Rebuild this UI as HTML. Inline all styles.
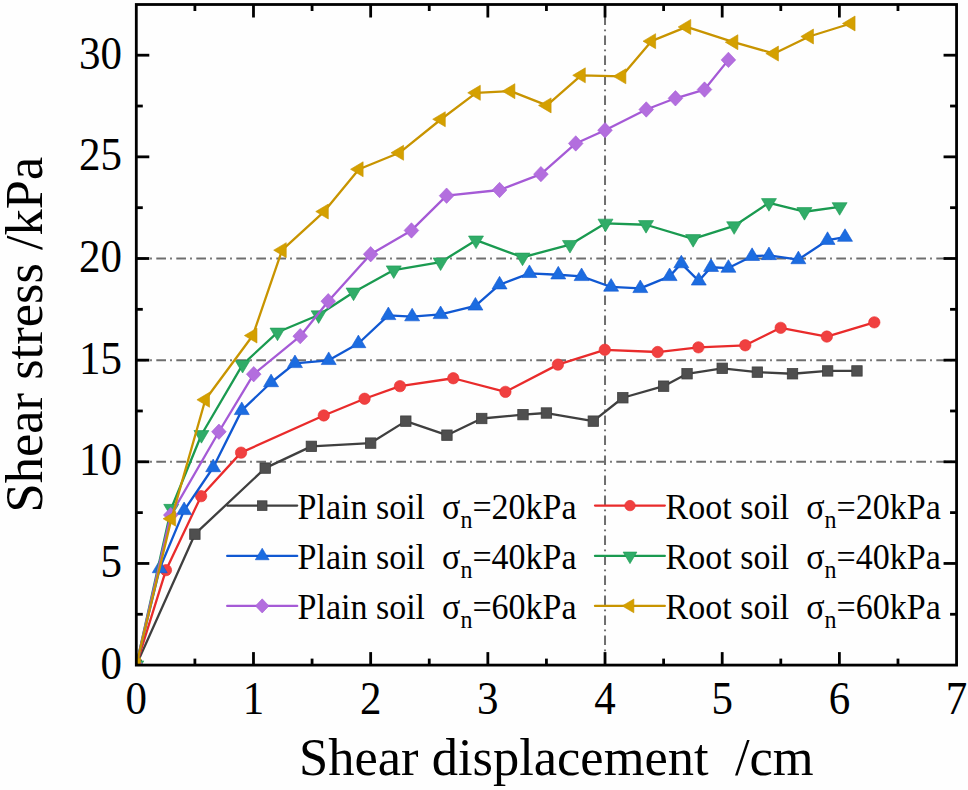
<!DOCTYPE html><html><head><meta charset="utf-8"><style>html,body{margin:0;padding:0;background:#fff;width:968px;height:790px;overflow:hidden}svg{display:block}text{font-family:"Liberation Serif",serif;fill:#000}</style></head><body>
<svg width="968" height="790" viewBox="0 0 968 790">
<rect width="968" height="790" fill="#fefefe"/>
<defs><clipPath id="pc"><rect x="136" y="4.5" width="820.5" height="660.5"/></clipPath></defs>
<line x1="136.3" y1="461.80" x2="956.5" y2="461.80" stroke="#6e6e6e" stroke-width="2" stroke-dasharray="9.7 4.1 1.8 4.4"/>
<line x1="136.3" y1="360.15" x2="956.5" y2="360.15" stroke="#6e6e6e" stroke-width="2" stroke-dasharray="9.7 4.1 1.8 4.4"/>
<line x1="136.3" y1="258.50" x2="956.5" y2="258.50" stroke="#6e6e6e" stroke-width="2" stroke-dasharray="9.7 4.1 1.8 4.4"/>
<line x1="605.02" y1="665.1" x2="605.02" y2="4.5" stroke="#6e6e6e" stroke-width="2" stroke-dasharray="9.7 4.1 1.8 4.4"/>
<g clip-path="url(#pc)">
<polyline points="136.30,665.10 194.89,534.17 265.20,468.10 311.37,446.35 370.66,443.10 405.81,421.14 446.94,435.17 481.75,418.50 522.99,414.63 546.43,413.01 593.30,421.14 622.83,397.76 663.61,386.17 687.05,373.77 722.20,368.28 757.35,372.14 792.51,373.77 827.66,370.92 856.96,370.92" fill="none" stroke="#3f3f3f" stroke-width="2.3" stroke-linejoin="round" stroke-linecap="round"/>
<rect x="131.10" y="659.90" width="10.40" height="10.40" fill="#4f4f4f" stroke="#3f3f3f" stroke-width="0.8"/>
<rect x="189.69" y="528.97" width="10.40" height="10.40" fill="#4f4f4f" stroke="#3f3f3f" stroke-width="0.8"/>
<rect x="260.00" y="462.90" width="10.40" height="10.40" fill="#4f4f4f" stroke="#3f3f3f" stroke-width="0.8"/>
<rect x="306.17" y="441.15" width="10.40" height="10.40" fill="#4f4f4f" stroke="#3f3f3f" stroke-width="0.8"/>
<rect x="365.46" y="437.90" width="10.40" height="10.40" fill="#4f4f4f" stroke="#3f3f3f" stroke-width="0.8"/>
<rect x="400.61" y="415.94" width="10.40" height="10.40" fill="#4f4f4f" stroke="#3f3f3f" stroke-width="0.8"/>
<rect x="441.74" y="429.97" width="10.40" height="10.40" fill="#4f4f4f" stroke="#3f3f3f" stroke-width="0.8"/>
<rect x="476.55" y="413.30" width="10.40" height="10.40" fill="#4f4f4f" stroke="#3f3f3f" stroke-width="0.8"/>
<rect x="517.79" y="409.43" width="10.40" height="10.40" fill="#4f4f4f" stroke="#3f3f3f" stroke-width="0.8"/>
<rect x="541.23" y="407.81" width="10.40" height="10.40" fill="#4f4f4f" stroke="#3f3f3f" stroke-width="0.8"/>
<rect x="588.10" y="415.94" width="10.40" height="10.40" fill="#4f4f4f" stroke="#3f3f3f" stroke-width="0.8"/>
<rect x="617.63" y="392.56" width="10.40" height="10.40" fill="#4f4f4f" stroke="#3f3f3f" stroke-width="0.8"/>
<rect x="658.41" y="380.97" width="10.40" height="10.40" fill="#4f4f4f" stroke="#3f3f3f" stroke-width="0.8"/>
<rect x="681.85" y="368.57" width="10.40" height="10.40" fill="#4f4f4f" stroke="#3f3f3f" stroke-width="0.8"/>
<rect x="717.00" y="363.08" width="10.40" height="10.40" fill="#4f4f4f" stroke="#3f3f3f" stroke-width="0.8"/>
<rect x="752.15" y="366.94" width="10.40" height="10.40" fill="#4f4f4f" stroke="#3f3f3f" stroke-width="0.8"/>
<rect x="787.31" y="368.57" width="10.40" height="10.40" fill="#4f4f4f" stroke="#3f3f3f" stroke-width="0.8"/>
<rect x="822.46" y="365.72" width="10.40" height="10.40" fill="#4f4f4f" stroke="#3f3f3f" stroke-width="0.8"/>
<rect x="851.76" y="365.72" width="10.40" height="10.40" fill="#4f4f4f" stroke="#3f3f3f" stroke-width="0.8"/>
<polyline points="136.30,665.10 165.95,570.16 201.10,496.16 241.06,452.65 323.79,415.45 364.57,398.78 399.96,386.17 453.27,378.24 505.42,391.86 557.91,364.62 604.79,349.78 657.63,352.02 698.41,347.34 745.28,345.31 780.67,327.83 826.84,336.57 874.30,322.34" fill="none" stroke="#e92b2b" stroke-width="2.3" stroke-linejoin="round" stroke-linecap="round"/>
<circle cx="136.30" cy="665.10" r="5.70" fill="#f04040" stroke="#e92b2b" stroke-width="0.6"/>
<circle cx="165.95" cy="570.16" r="5.70" fill="#f04040" stroke="#e92b2b" stroke-width="0.6"/>
<circle cx="201.10" cy="496.16" r="5.70" fill="#f04040" stroke="#e92b2b" stroke-width="0.6"/>
<circle cx="241.06" cy="452.65" r="5.70" fill="#f04040" stroke="#e92b2b" stroke-width="0.6"/>
<circle cx="323.79" cy="415.45" r="5.70" fill="#f04040" stroke="#e92b2b" stroke-width="0.6"/>
<circle cx="364.57" cy="398.78" r="5.70" fill="#f04040" stroke="#e92b2b" stroke-width="0.6"/>
<circle cx="399.96" cy="386.17" r="5.70" fill="#f04040" stroke="#e92b2b" stroke-width="0.6"/>
<circle cx="453.27" cy="378.24" r="5.70" fill="#f04040" stroke="#e92b2b" stroke-width="0.6"/>
<circle cx="505.42" cy="391.86" r="5.70" fill="#f04040" stroke="#e92b2b" stroke-width="0.6"/>
<circle cx="557.91" cy="364.62" r="5.70" fill="#f04040" stroke="#e92b2b" stroke-width="0.6"/>
<circle cx="604.79" cy="349.78" r="5.70" fill="#f04040" stroke="#e92b2b" stroke-width="0.6"/>
<circle cx="657.63" cy="352.02" r="5.70" fill="#f04040" stroke="#e92b2b" stroke-width="0.6"/>
<circle cx="698.41" cy="347.34" r="5.70" fill="#f04040" stroke="#e92b2b" stroke-width="0.6"/>
<circle cx="745.28" cy="345.31" r="5.70" fill="#f04040" stroke="#e92b2b" stroke-width="0.6"/>
<circle cx="780.67" cy="327.83" r="5.70" fill="#f04040" stroke="#e92b2b" stroke-width="0.6"/>
<circle cx="826.84" cy="336.57" r="5.70" fill="#f04040" stroke="#e92b2b" stroke-width="0.6"/>
<circle cx="874.30" cy="322.34" r="5.70" fill="#f04040" stroke="#e92b2b" stroke-width="0.6"/>
<polyline points="136.30,665.10 159.74,568.53 184.11,510.39 213.17,467.49 241.76,410.37 271.06,382.51 294.96,363.40 328.71,360.35 358.36,343.48 388.35,315.42 412.14,316.64 440.62,314.41 475.42,305.87 499.56,284.73 529.44,273.34 558.27,274.76 581.58,276.39 611.11,286.96 640.29,288.39 669.59,276.39 681.30,263.58 698.76,280.86 711.07,267.24 728.41,268.06 752.08,256.26 768.95,255.45 798.37,259.52 827.54,240.20 845.00,237.15" fill="none" stroke="#1058d2" stroke-width="2.3" stroke-linejoin="round" stroke-linecap="round"/>
<polygon points="136.30,656.70 143.80,669.30 128.80,669.30" fill="#1c6ce0" stroke="#1058d2" stroke-width="0.6" stroke-linejoin="miter"/>
<polygon points="159.74,560.13 167.24,572.73 152.24,572.73" fill="#1c6ce0" stroke="#1058d2" stroke-width="0.6" stroke-linejoin="miter"/>
<polygon points="184.11,501.99 191.61,514.59 176.61,514.59" fill="#1c6ce0" stroke="#1058d2" stroke-width="0.6" stroke-linejoin="miter"/>
<polygon points="213.17,459.09 220.67,471.69 205.67,471.69" fill="#1c6ce0" stroke="#1058d2" stroke-width="0.6" stroke-linejoin="miter"/>
<polygon points="241.76,401.97 249.26,414.57 234.26,414.57" fill="#1c6ce0" stroke="#1058d2" stroke-width="0.6" stroke-linejoin="miter"/>
<polygon points="271.06,374.11 278.56,386.71 263.56,386.71" fill="#1c6ce0" stroke="#1058d2" stroke-width="0.6" stroke-linejoin="miter"/>
<polygon points="294.96,355.00 302.46,367.60 287.46,367.60" fill="#1c6ce0" stroke="#1058d2" stroke-width="0.6" stroke-linejoin="miter"/>
<polygon points="328.71,351.95 336.21,364.55 321.21,364.55" fill="#1c6ce0" stroke="#1058d2" stroke-width="0.6" stroke-linejoin="miter"/>
<polygon points="358.36,335.08 365.86,347.68 350.86,347.68" fill="#1c6ce0" stroke="#1058d2" stroke-width="0.6" stroke-linejoin="miter"/>
<polygon points="388.35,307.02 395.85,319.62 380.85,319.62" fill="#1c6ce0" stroke="#1058d2" stroke-width="0.6" stroke-linejoin="miter"/>
<polygon points="412.14,308.24 419.64,320.84 404.64,320.84" fill="#1c6ce0" stroke="#1058d2" stroke-width="0.6" stroke-linejoin="miter"/>
<polygon points="440.62,306.01 448.12,318.61 433.12,318.61" fill="#1c6ce0" stroke="#1058d2" stroke-width="0.6" stroke-linejoin="miter"/>
<polygon points="475.42,297.47 482.92,310.07 467.92,310.07" fill="#1c6ce0" stroke="#1058d2" stroke-width="0.6" stroke-linejoin="miter"/>
<polygon points="499.56,276.33 507.06,288.93 492.06,288.93" fill="#1c6ce0" stroke="#1058d2" stroke-width="0.6" stroke-linejoin="miter"/>
<polygon points="529.44,264.94 536.94,277.54 521.94,277.54" fill="#1c6ce0" stroke="#1058d2" stroke-width="0.6" stroke-linejoin="miter"/>
<polygon points="558.27,266.36 565.77,278.96 550.77,278.96" fill="#1c6ce0" stroke="#1058d2" stroke-width="0.6" stroke-linejoin="miter"/>
<polygon points="581.58,267.99 589.08,280.59 574.08,280.59" fill="#1c6ce0" stroke="#1058d2" stroke-width="0.6" stroke-linejoin="miter"/>
<polygon points="611.11,278.56 618.61,291.16 603.61,291.16" fill="#1c6ce0" stroke="#1058d2" stroke-width="0.6" stroke-linejoin="miter"/>
<polygon points="640.29,279.99 647.79,292.59 632.79,292.59" fill="#1c6ce0" stroke="#1058d2" stroke-width="0.6" stroke-linejoin="miter"/>
<polygon points="669.59,267.99 677.09,280.59 662.09,280.59" fill="#1c6ce0" stroke="#1058d2" stroke-width="0.6" stroke-linejoin="miter"/>
<polygon points="681.30,255.18 688.80,267.78 673.80,267.78" fill="#1c6ce0" stroke="#1058d2" stroke-width="0.6" stroke-linejoin="miter"/>
<polygon points="698.76,272.46 706.26,285.06 691.26,285.06" fill="#1c6ce0" stroke="#1058d2" stroke-width="0.6" stroke-linejoin="miter"/>
<polygon points="711.07,258.84 718.57,271.44 703.57,271.44" fill="#1c6ce0" stroke="#1058d2" stroke-width="0.6" stroke-linejoin="miter"/>
<polygon points="728.41,259.66 735.91,272.26 720.91,272.26" fill="#1c6ce0" stroke="#1058d2" stroke-width="0.6" stroke-linejoin="miter"/>
<polygon points="752.08,247.86 759.58,260.46 744.58,260.46" fill="#1c6ce0" stroke="#1058d2" stroke-width="0.6" stroke-linejoin="miter"/>
<polygon points="768.95,247.05 776.45,259.65 761.45,259.65" fill="#1c6ce0" stroke="#1058d2" stroke-width="0.6" stroke-linejoin="miter"/>
<polygon points="798.37,251.12 805.87,263.72 790.87,263.72" fill="#1c6ce0" stroke="#1058d2" stroke-width="0.6" stroke-linejoin="miter"/>
<polygon points="827.54,231.80 835.04,244.40 820.04,244.40" fill="#1c6ce0" stroke="#1058d2" stroke-width="0.6" stroke-linejoin="miter"/>
<polygon points="845.00,228.75 852.50,241.35 837.50,241.35" fill="#1c6ce0" stroke="#1058d2" stroke-width="0.6" stroke-linejoin="miter"/>
<polyline points="136.30,665.10 171.22,508.56 201.45,434.76 242.58,364.62 277.50,332.30 318.63,315.02 353.55,292.25 393.74,270.09 440.62,262.16 476.00,240.20 522.53,257.28 569.98,244.68 605.49,223.33 646.03,224.75 693.14,238.78 734.15,225.97 768.95,202.80 804.46,211.74 839.61,206.86" fill="none" stroke="#1a9a50" stroke-width="2.3" stroke-linejoin="round" stroke-linecap="round"/>
<polygon points="136.30,673.50 143.80,660.90 128.80,660.90" fill="#30ac68" stroke="#1a9a50" stroke-width="0.6" stroke-linejoin="miter"/>
<polygon points="171.22,516.96 178.72,504.36 163.72,504.36" fill="#30ac68" stroke="#1a9a50" stroke-width="0.6" stroke-linejoin="miter"/>
<polygon points="201.45,443.16 208.95,430.56 193.95,430.56" fill="#30ac68" stroke="#1a9a50" stroke-width="0.6" stroke-linejoin="miter"/>
<polygon points="242.58,373.02 250.08,360.42 235.08,360.42" fill="#30ac68" stroke="#1a9a50" stroke-width="0.6" stroke-linejoin="miter"/>
<polygon points="277.50,340.70 285.00,328.10 270.00,328.10" fill="#30ac68" stroke="#1a9a50" stroke-width="0.6" stroke-linejoin="miter"/>
<polygon points="318.63,323.42 326.13,310.82 311.13,310.82" fill="#30ac68" stroke="#1a9a50" stroke-width="0.6" stroke-linejoin="miter"/>
<polygon points="353.55,300.65 361.05,288.05 346.05,288.05" fill="#30ac68" stroke="#1a9a50" stroke-width="0.6" stroke-linejoin="miter"/>
<polygon points="393.74,278.49 401.24,265.89 386.24,265.89" fill="#30ac68" stroke="#1a9a50" stroke-width="0.6" stroke-linejoin="miter"/>
<polygon points="440.62,270.56 448.12,257.96 433.12,257.96" fill="#30ac68" stroke="#1a9a50" stroke-width="0.6" stroke-linejoin="miter"/>
<polygon points="476.00,248.60 483.50,236.00 468.50,236.00" fill="#30ac68" stroke="#1a9a50" stroke-width="0.6" stroke-linejoin="miter"/>
<polygon points="522.53,265.68 530.03,253.08 515.03,253.08" fill="#30ac68" stroke="#1a9a50" stroke-width="0.6" stroke-linejoin="miter"/>
<polygon points="569.98,253.08 577.48,240.48 562.48,240.48" fill="#30ac68" stroke="#1a9a50" stroke-width="0.6" stroke-linejoin="miter"/>
<polygon points="605.49,231.73 612.99,219.13 597.99,219.13" fill="#30ac68" stroke="#1a9a50" stroke-width="0.6" stroke-linejoin="miter"/>
<polygon points="646.03,233.15 653.53,220.55 638.53,220.55" fill="#30ac68" stroke="#1a9a50" stroke-width="0.6" stroke-linejoin="miter"/>
<polygon points="693.14,247.18 700.64,234.58 685.64,234.58" fill="#30ac68" stroke="#1a9a50" stroke-width="0.6" stroke-linejoin="miter"/>
<polygon points="734.15,234.37 741.65,221.77 726.65,221.77" fill="#30ac68" stroke="#1a9a50" stroke-width="0.6" stroke-linejoin="miter"/>
<polygon points="768.95,211.20 776.45,198.60 761.45,198.60" fill="#30ac68" stroke="#1a9a50" stroke-width="0.6" stroke-linejoin="miter"/>
<polygon points="804.46,220.14 811.96,207.54 796.96,207.54" fill="#30ac68" stroke="#1a9a50" stroke-width="0.6" stroke-linejoin="miter"/>
<polygon points="839.61,215.26 847.11,202.66 832.11,202.66" fill="#30ac68" stroke="#1a9a50" stroke-width="0.6" stroke-linejoin="miter"/>
<polyline points="136.30,665.10 170.75,515.06 218.91,431.71 253.71,374.18 300.23,336.16 328.24,301.19 370.66,254.23 411.44,230.44 446.59,195.68 499.56,189.99 540.92,174.13 575.73,143.43 605.02,130.22 646.27,109.48 675.45,98.30 704.51,89.56 728.41,59.88" fill="none" stroke="#a55ad6" stroke-width="2.3" stroke-linejoin="round" stroke-linecap="round"/>
<polygon points="136.30,657.40 143.62,665.10 136.30,672.80 128.99,665.10" fill="#b36ede" stroke="#a55ad6" stroke-width="0.6" stroke-linejoin="miter"/>
<polygon points="170.75,507.36 178.07,515.06 170.75,522.76 163.44,515.06" fill="#b36ede" stroke="#a55ad6" stroke-width="0.6" stroke-linejoin="miter"/>
<polygon points="218.91,424.01 226.23,431.71 218.91,439.41 211.60,431.71" fill="#b36ede" stroke="#a55ad6" stroke-width="0.6" stroke-linejoin="miter"/>
<polygon points="253.71,366.48 261.03,374.18 253.71,381.88 246.40,374.18" fill="#b36ede" stroke="#a55ad6" stroke-width="0.6" stroke-linejoin="miter"/>
<polygon points="300.23,328.46 307.55,336.16 300.23,343.86 292.92,336.16" fill="#b36ede" stroke="#a55ad6" stroke-width="0.6" stroke-linejoin="miter"/>
<polygon points="328.24,293.49 335.56,301.19 328.24,308.89 320.93,301.19" fill="#b36ede" stroke="#a55ad6" stroke-width="0.6" stroke-linejoin="miter"/>
<polygon points="370.66,246.53 377.98,254.23 370.66,261.93 363.35,254.23" fill="#b36ede" stroke="#a55ad6" stroke-width="0.6" stroke-linejoin="miter"/>
<polygon points="411.44,222.74 418.75,230.44 411.44,238.14 404.12,230.44" fill="#b36ede" stroke="#a55ad6" stroke-width="0.6" stroke-linejoin="miter"/>
<polygon points="446.59,187.98 453.91,195.68 446.59,203.38 439.28,195.68" fill="#b36ede" stroke="#a55ad6" stroke-width="0.6" stroke-linejoin="miter"/>
<polygon points="499.56,182.29 506.87,189.99 499.56,197.69 492.24,189.99" fill="#b36ede" stroke="#a55ad6" stroke-width="0.6" stroke-linejoin="miter"/>
<polygon points="540.92,166.43 548.24,174.13 540.92,181.83 533.61,174.13" fill="#b36ede" stroke="#a55ad6" stroke-width="0.6" stroke-linejoin="miter"/>
<polygon points="575.73,135.73 583.04,143.43 575.73,151.13 568.41,143.43" fill="#b36ede" stroke="#a55ad6" stroke-width="0.6" stroke-linejoin="miter"/>
<polygon points="605.02,122.52 612.34,130.22 605.02,137.92 597.70,130.22" fill="#b36ede" stroke="#a55ad6" stroke-width="0.6" stroke-linejoin="miter"/>
<polygon points="646.27,101.78 653.58,109.48 646.27,117.18 638.95,109.48" fill="#b36ede" stroke="#a55ad6" stroke-width="0.6" stroke-linejoin="miter"/>
<polygon points="675.45,90.60 682.76,98.30 675.45,106.00 668.13,98.30" fill="#b36ede" stroke="#a55ad6" stroke-width="0.6" stroke-linejoin="miter"/>
<polygon points="704.51,81.86 711.82,89.56 704.51,97.26 697.19,89.56" fill="#b36ede" stroke="#a55ad6" stroke-width="0.6" stroke-linejoin="miter"/>
<polygon points="728.41,52.18 735.73,59.88 728.41,67.58 721.10,59.88" fill="#b36ede" stroke="#a55ad6" stroke-width="0.6" stroke-linejoin="miter"/>
<polyline points="136.30,665.10 171.45,518.72 205.32,399.79 252.78,335.55 282.07,250.16 324.14,211.54 358.94,169.25 399.37,152.78 441.09,119.24 476.12,92.81 510.69,91.18 546.90,105.42 581.12,75.33 621.66,76.34 651.42,41.17 686.58,26.94 733.68,42.19 774.23,53.57 809.26,36.50 850.86,23.49" fill="none" stroke="#c89400" stroke-width="2.3" stroke-linejoin="round" stroke-linecap="round"/>
<polygon points="127.90,665.10 140.50,657.60 140.50,672.60" fill="#d4a000" stroke="#c89400" stroke-width="0.6" stroke-linejoin="miter"/>
<polygon points="163.05,518.72 175.65,511.22 175.65,526.22" fill="#d4a000" stroke="#c89400" stroke-width="0.6" stroke-linejoin="miter"/>
<polygon points="196.92,399.79 209.52,392.29 209.52,407.29" fill="#d4a000" stroke="#c89400" stroke-width="0.6" stroke-linejoin="miter"/>
<polygon points="244.38,335.55 256.98,328.05 256.98,343.05" fill="#d4a000" stroke="#c89400" stroke-width="0.6" stroke-linejoin="miter"/>
<polygon points="273.67,250.16 286.27,242.66 286.27,257.66" fill="#d4a000" stroke="#c89400" stroke-width="0.6" stroke-linejoin="miter"/>
<polygon points="315.74,211.54 328.34,204.04 328.34,219.04" fill="#d4a000" stroke="#c89400" stroke-width="0.6" stroke-linejoin="miter"/>
<polygon points="350.54,169.25 363.14,161.75 363.14,176.75" fill="#d4a000" stroke="#c89400" stroke-width="0.6" stroke-linejoin="miter"/>
<polygon points="390.97,152.78 403.57,145.28 403.57,160.28" fill="#d4a000" stroke="#c89400" stroke-width="0.6" stroke-linejoin="miter"/>
<polygon points="432.69,119.24 445.29,111.74 445.29,126.74" fill="#d4a000" stroke="#c89400" stroke-width="0.6" stroke-linejoin="miter"/>
<polygon points="467.72,92.81 480.32,85.31 480.32,100.31" fill="#d4a000" stroke="#c89400" stroke-width="0.6" stroke-linejoin="miter"/>
<polygon points="502.29,91.18 514.89,83.68 514.89,98.68" fill="#d4a000" stroke="#c89400" stroke-width="0.6" stroke-linejoin="miter"/>
<polygon points="538.50,105.42 551.10,97.92 551.10,112.92" fill="#d4a000" stroke="#c89400" stroke-width="0.6" stroke-linejoin="miter"/>
<polygon points="572.72,75.33 585.32,67.83 585.32,82.83" fill="#d4a000" stroke="#c89400" stroke-width="0.6" stroke-linejoin="miter"/>
<polygon points="613.26,76.34 625.86,68.84 625.86,83.84" fill="#d4a000" stroke="#c89400" stroke-width="0.6" stroke-linejoin="miter"/>
<polygon points="643.02,41.17 655.62,33.67 655.62,48.67" fill="#d4a000" stroke="#c89400" stroke-width="0.6" stroke-linejoin="miter"/>
<polygon points="678.18,26.94 690.78,19.44 690.78,34.44" fill="#d4a000" stroke="#c89400" stroke-width="0.6" stroke-linejoin="miter"/>
<polygon points="725.28,42.19 737.88,34.69 737.88,49.69" fill="#d4a000" stroke="#c89400" stroke-width="0.6" stroke-linejoin="miter"/>
<polygon points="765.83,53.57 778.43,46.07 778.43,61.07" fill="#d4a000" stroke="#c89400" stroke-width="0.6" stroke-linejoin="miter"/>
<polygon points="800.86,36.50 813.46,29.00 813.46,44.00" fill="#d4a000" stroke="#c89400" stroke-width="0.6" stroke-linejoin="miter"/>
<polygon points="842.46,23.49 855.06,15.99 855.06,30.99" fill="#d4a000" stroke="#c89400" stroke-width="0.6" stroke-linejoin="miter"/>
</g>
<line x1="227.2" y1="505.6" x2="297.2" y2="505.6" stroke="#3f3f3f" stroke-width="2.3" stroke-linecap="round"/>
<rect x="257.42" y="500.82" width="9.57" height="9.57" fill="#4f4f4f" stroke="#3f3f3f" stroke-width="0.8"/>
<text transform="translate(297.6,518.7) scale(1,1.04)" font-size="34" xml:space="preserve">Plain soil  σ<tspan font-size="24" dy="8.7">n</tspan><tspan dy="-8.7">=</tspan>20kPa</text>
<line x1="595.0" y1="505.6" x2="664.8" y2="505.6" stroke="#e92b2b" stroke-width="2.3" stroke-linecap="round"/>
<circle cx="630.00" cy="505.60" r="5.24" fill="#f04040" stroke="#e92b2b" stroke-width="0.6"/>
<text transform="translate(665.6,518.7) scale(1,1.04)" font-size="34" xml:space="preserve">Root soil  σ<tspan font-size="24" dy="8.7">n</tspan><tspan dy="-8.7">=</tspan>20kPa</text>
<line x1="227.2" y1="555.9" x2="297.2" y2="555.9" stroke="#1058d2" stroke-width="2.3" stroke-linecap="round"/>
<polygon points="262.20,548.17 269.10,559.76 255.30,559.76" fill="#1c6ce0" stroke="#1058d2" stroke-width="0.6" stroke-linejoin="miter"/>
<text transform="translate(297.6,569.0) scale(1,1.04)" font-size="34" xml:space="preserve">Plain soil  σ<tspan font-size="24" dy="8.7">n</tspan><tspan dy="-8.7">=</tspan>40kPa</text>
<line x1="595.0" y1="555.9" x2="664.8" y2="555.9" stroke="#1a9a50" stroke-width="2.3" stroke-linecap="round"/>
<polygon points="630.00,563.63 636.90,552.04 623.10,552.04" fill="#30ac68" stroke="#1a9a50" stroke-width="0.6" stroke-linejoin="miter"/>
<text transform="translate(665.6,569.0) scale(1,1.04)" font-size="34" xml:space="preserve">Root soil  σ<tspan font-size="24" dy="8.7">n</tspan><tspan dy="-8.7">=</tspan>40kPa</text>
<line x1="227.2" y1="605.9" x2="297.2" y2="605.9" stroke="#a55ad6" stroke-width="2.3" stroke-linecap="round"/>
<polygon points="262.20,598.82 268.93,605.90 262.20,612.98 255.47,605.90" fill="#b36ede" stroke="#a55ad6" stroke-width="0.6" stroke-linejoin="miter"/>
<text transform="translate(297.6,619.0) scale(1,1.04)" font-size="34" xml:space="preserve">Plain soil  σ<tspan font-size="24" dy="8.7">n</tspan><tspan dy="-8.7">=</tspan>60kPa</text>
<line x1="595.0" y1="605.9" x2="664.8" y2="605.9" stroke="#c89400" stroke-width="2.3" stroke-linecap="round"/>
<polygon points="622.27,605.90 633.86,599.00 633.86,612.80" fill="#d4a000" stroke="#c89400" stroke-width="0.6" stroke-linejoin="miter"/>
<text transform="translate(665.6,619.0) scale(1,1.04)" font-size="34" xml:space="preserve">Root soil  σ<tspan font-size="24" dy="8.7">n</tspan><tspan dy="-8.7">=</tspan>60kPa</text>
<rect x="136.3" y="4.5" width="820.26" height="660.60" fill="none" stroke="#000" stroke-width="2.8"/>
<line x1="194.89" y1="665.1" x2="194.89" y2="658.6" stroke="#000" stroke-width="2.8"/>
<line x1="194.89" y1="4.5" x2="194.89" y2="11.0" stroke="#000" stroke-width="2.8"/>
<line x1="253.48" y1="665.1" x2="253.48" y2="652.1" stroke="#000" stroke-width="2.8"/>
<line x1="253.48" y1="4.5" x2="253.48" y2="17.5" stroke="#000" stroke-width="2.8"/>
<line x1="312.07" y1="665.1" x2="312.07" y2="658.6" stroke="#000" stroke-width="2.8"/>
<line x1="312.07" y1="4.5" x2="312.07" y2="11.0" stroke="#000" stroke-width="2.8"/>
<line x1="370.66" y1="665.1" x2="370.66" y2="652.1" stroke="#000" stroke-width="2.8"/>
<line x1="370.66" y1="4.5" x2="370.66" y2="17.5" stroke="#000" stroke-width="2.8"/>
<line x1="429.25" y1="665.1" x2="429.25" y2="658.6" stroke="#000" stroke-width="2.8"/>
<line x1="429.25" y1="4.5" x2="429.25" y2="11.0" stroke="#000" stroke-width="2.8"/>
<line x1="487.84" y1="665.1" x2="487.84" y2="652.1" stroke="#000" stroke-width="2.8"/>
<line x1="487.84" y1="4.5" x2="487.84" y2="17.5" stroke="#000" stroke-width="2.8"/>
<line x1="546.43" y1="665.1" x2="546.43" y2="658.6" stroke="#000" stroke-width="2.8"/>
<line x1="546.43" y1="4.5" x2="546.43" y2="11.0" stroke="#000" stroke-width="2.8"/>
<line x1="605.02" y1="665.1" x2="605.02" y2="652.1" stroke="#000" stroke-width="2.8"/>
<line x1="605.02" y1="4.5" x2="605.02" y2="17.5" stroke="#000" stroke-width="2.8"/>
<line x1="663.61" y1="665.1" x2="663.61" y2="658.6" stroke="#000" stroke-width="2.8"/>
<line x1="663.61" y1="4.5" x2="663.61" y2="11.0" stroke="#000" stroke-width="2.8"/>
<line x1="722.20" y1="665.1" x2="722.20" y2="652.1" stroke="#000" stroke-width="2.8"/>
<line x1="722.20" y1="4.5" x2="722.20" y2="17.5" stroke="#000" stroke-width="2.8"/>
<line x1="780.79" y1="665.1" x2="780.79" y2="658.6" stroke="#000" stroke-width="2.8"/>
<line x1="780.79" y1="4.5" x2="780.79" y2="11.0" stroke="#000" stroke-width="2.8"/>
<line x1="839.38" y1="665.1" x2="839.38" y2="652.1" stroke="#000" stroke-width="2.8"/>
<line x1="839.38" y1="4.5" x2="839.38" y2="17.5" stroke="#000" stroke-width="2.8"/>
<line x1="897.97" y1="665.1" x2="897.97" y2="658.6" stroke="#000" stroke-width="2.8"/>
<line x1="897.97" y1="4.5" x2="897.97" y2="11.0" stroke="#000" stroke-width="2.8"/>
<line x1="136.3" y1="614.27" x2="142.8" y2="614.27" stroke="#000" stroke-width="2.8"/>
<line x1="956.56" y1="614.27" x2="950.06" y2="614.27" stroke="#000" stroke-width="2.8"/>
<line x1="136.3" y1="563.45" x2="149.3" y2="563.45" stroke="#000" stroke-width="2.8"/>
<line x1="956.56" y1="563.45" x2="943.56" y2="563.45" stroke="#000" stroke-width="2.8"/>
<line x1="136.3" y1="512.62" x2="142.8" y2="512.62" stroke="#000" stroke-width="2.8"/>
<line x1="956.56" y1="512.62" x2="950.06" y2="512.62" stroke="#000" stroke-width="2.8"/>
<line x1="136.3" y1="461.80" x2="149.3" y2="461.80" stroke="#000" stroke-width="2.8"/>
<line x1="956.56" y1="461.80" x2="943.56" y2="461.80" stroke="#000" stroke-width="2.8"/>
<line x1="136.3" y1="410.98" x2="142.8" y2="410.98" stroke="#000" stroke-width="2.8"/>
<line x1="956.56" y1="410.98" x2="950.06" y2="410.98" stroke="#000" stroke-width="2.8"/>
<line x1="136.3" y1="360.15" x2="149.3" y2="360.15" stroke="#000" stroke-width="2.8"/>
<line x1="956.56" y1="360.15" x2="943.56" y2="360.15" stroke="#000" stroke-width="2.8"/>
<line x1="136.3" y1="309.33" x2="142.8" y2="309.33" stroke="#000" stroke-width="2.8"/>
<line x1="956.56" y1="309.33" x2="950.06" y2="309.33" stroke="#000" stroke-width="2.8"/>
<line x1="136.3" y1="258.50" x2="149.3" y2="258.50" stroke="#000" stroke-width="2.8"/>
<line x1="956.56" y1="258.50" x2="943.56" y2="258.50" stroke="#000" stroke-width="2.8"/>
<line x1="136.3" y1="207.68" x2="142.8" y2="207.68" stroke="#000" stroke-width="2.8"/>
<line x1="956.56" y1="207.68" x2="950.06" y2="207.68" stroke="#000" stroke-width="2.8"/>
<line x1="136.3" y1="156.85" x2="149.3" y2="156.85" stroke="#000" stroke-width="2.8"/>
<line x1="956.56" y1="156.85" x2="943.56" y2="156.85" stroke="#000" stroke-width="2.8"/>
<line x1="136.3" y1="106.03" x2="142.8" y2="106.03" stroke="#000" stroke-width="2.8"/>
<line x1="956.56" y1="106.03" x2="950.06" y2="106.03" stroke="#000" stroke-width="2.8"/>
<line x1="136.3" y1="55.20" x2="149.3" y2="55.20" stroke="#000" stroke-width="2.8"/>
<line x1="956.56" y1="55.20" x2="943.56" y2="55.20" stroke="#000" stroke-width="2.8"/>
<text transform="translate(136.30,713.6) scale(1,1.085)" font-size="43" text-anchor="middle">0</text>
<text transform="translate(253.48,713.6) scale(1,1.085)" font-size="43" text-anchor="middle">1</text>
<text transform="translate(370.66,713.6) scale(1,1.085)" font-size="43" text-anchor="middle">2</text>
<text transform="translate(487.84,713.6) scale(1,1.085)" font-size="43" text-anchor="middle">3</text>
<text transform="translate(605.02,713.6) scale(1,1.085)" font-size="43" text-anchor="middle">4</text>
<text transform="translate(722.20,713.6) scale(1,1.085)" font-size="43" text-anchor="middle">5</text>
<text transform="translate(839.38,713.6) scale(1,1.085)" font-size="43" text-anchor="middle">6</text>
<text transform="translate(956.56,713.6) scale(1,1.085)" font-size="43" text-anchor="middle">7</text>
<text transform="translate(122,678.70) scale(1,1.085)" font-size="43" text-anchor="end">0</text>
<text transform="translate(122,577.05) scale(1,1.085)" font-size="43" text-anchor="end">5</text>
<text transform="translate(122,475.40) scale(1,1.085)" font-size="43" text-anchor="end">10</text>
<text transform="translate(122,373.75) scale(1,1.085)" font-size="43" text-anchor="end">15</text>
<text transform="translate(122,272.10) scale(1,1.085)" font-size="43" text-anchor="end">20</text>
<text transform="translate(122,170.45) scale(1,1.085)" font-size="43" text-anchor="end">25</text>
<text transform="translate(122,68.80) scale(1,1.085)" font-size="43" text-anchor="end">30</text>
<text x="299" y="775" font-size="52.5" xml:space="preserve">Shear displacement  /cm</text>
<text transform="translate(42,512.5) rotate(-90)" x="0" y="0" font-size="52.5">Shear stress /kPa</text>
</svg></body></html>
